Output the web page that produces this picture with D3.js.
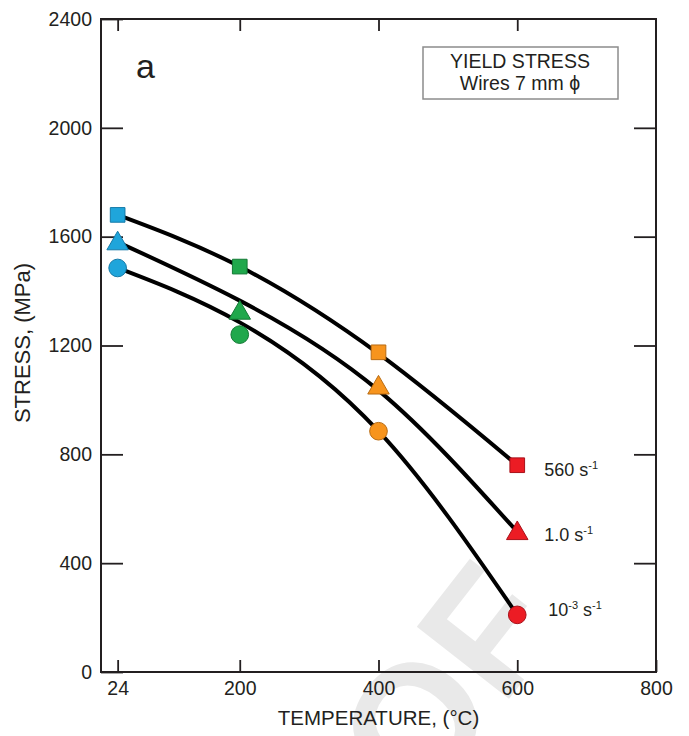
<!DOCTYPE html>
<html>
<head>
<meta charset="utf-8">
<script src="https://cdn.jsdelivr.net/npm/d3@7"></script>
<style>
  body { margin: 0; background: #fff; }
  text { font-family: "Liberation Sans", Arial, Helvetica, sans-serif; fill: #231f20; }
</style>
</head>
<body>
<div class="chart"></div>
<script>
// values
var temps = [24, 200, 400, 600];
var xTicks = [24, 200, 400, 600, 800];
var yTicks = [0, 400, 800, 1200, 1600, 2000, 2400];

var stress560 = [1680, 1490, 1175, 760];
var stress1 = [1580, 1325, 1050, 515];
var stress1e3 = [1485, 1240, 885, 210];

// the fitted curves (they don't pass exactly through every point)
var fit560 = [1680, 1490, 1170, 760];
var fit1 = [1580, 1365, 1035, 515];
var fit1e3 = [1485, 1285, 885, 210];

var rateLabels = ["560", "1.0", "10"];
var rateSups = ["", "", "-3"];

var width = 689, height = 736;

var svg = d3.select(".chart").append("svg")
    .attr("width", width)
    .attr("height", height);

var x = d3.scaleLinear().domain([0, 800]).range([101, 656]);
var y = d3.scaleLinear().domain([0, 2400]).range([672, 19]);

// faint watermark behind everything
svg.append("text")
    .attr("transform", "translate(566,626) rotate(-52)")
    .attr("text-anchor", "end")
    .style("font-size", "170px")
    .style("font-weight", "bold")
    .style("fill", "#e9e9e9")
    .text("PROOF");

var fills = ["#1fa5db", "#20a84c", "#f7941d", "#ec1c24"];
var strokes = ["#157aa8", "#137a35", "#b86b12", "#a8111a"];

var series = [
  {vals: stress560, fit: fit560, shape: "square", dy: 11},
  {vals: stress1, fit: fit1, shape: "triangle", dy: 9},
  {vals: stress1e3, fit: fit1e3, shape: "circle", dy: 1}
];

// frame
svg.append("rect")
    .attr("x", x(0)).attr("y", y(2400))
    .attr("width", x(800) - x(0))
    .attr("height", y(0) - y(2400))
    .style("fill", "none")
    .style("stroke", "#231f20")
    .style("stroke-width", 2);

// ticks pointing inward on all sides
svg.append("g")
    .attr("transform", "translate(0," + y(0) + ")")
    .call(d3.axisBottom(x).tickValues(xTicks).tickSizeInner(-12).tickSizeOuter(0).tickPadding(9).tickFormat(d3.format("d")))
    .call(function(g) { g.select(".domain").remove(); });
svg.append("g")
    .attr("transform", "translate(0," + y(2400) + ")")
    .call(d3.axisTop(x).tickValues(xTicks.slice(0, 4)).tickSizeInner(-12).tickSizeOuter(0).tickFormat(""))
    .call(function(g) { g.select(".domain").remove(); });
svg.append("g")
    .attr("transform", "translate(" + x(0) + ",0)")
    .call(d3.axisLeft(y).tickValues(yTicks).tickSizeInner(-22).tickSizeOuter(0).tickPadding(9).tickFormat(d3.format("d")))
    .call(function(g) { g.select(".domain").remove(); });
svg.append("g")
    .attr("transform", "translate(" + x(800) + ",0)")
    .call(d3.axisRight(y).tickValues(yTicks.slice(1, 6)).tickSizeInner(-22).tickSizeOuter(0).tickFormat(""))
    .call(function(g) { g.select(".domain").remove(); });

svg.selectAll(".tick line").style("stroke", "#231f20").style("stroke-width", 1.8);
svg.selectAll(".tick text")
    .style("font-size", "19.5px")
    .style("font-family", "'Liberation Sans', Arial, sans-serif")
    .style("fill", "#231f20");

// axis titles
svg.append("text")
    .attr("x", (x(0) + x(800)) / 2)
    .attr("y", 725)
    .attr("text-anchor", "middle")
    .style("font-size", "20.5px")
    .text("TEMPERATURE, (°C)");

svg.append("text")
    .attr("transform", "translate(30," + 343 + ") rotate(-90)")
    .attr("text-anchor", "middle")
    .style("font-size", "22px")
    .text("STRESS, (MPa)");

// panel letter
svg.append("text")
    .attr("x", 136).attr("y", 78)
    .style("font-size", "34px")
    .text("a");

// title box
svg.append("rect")
    .attr("x", 423).attr("y", 47)
    .attr("width", 195).attr("height", 52)
    .style("fill", "#fff")
    .style("stroke", "#8c8c8c")
    .style("stroke-width", 1.5);
svg.append("text")
    .attr("x", 520).attr("y", 68)
    .attr("text-anchor", "middle")
    .style("font-size", "19.5px")
    .text("YIELD STRESS");
svg.append("text")
    .attr("x", 520).attr("y", 90)
    .attr("text-anchor", "middle")
    .style("font-size", "19.5px")
    .text("Wires 7 mm ϕ");

// fitted curves
var line = d3.line()
    .x(function(d, i) { return x(temps[i]); })
    .y(function(d) { return y(d); })
    .curve(d3.curveNatural);

svg.selectAll(".fit")
    .data(series)
    .enter()
    .append("path")
    .attr("class", "fit")
    .attr("d", function(d) { return line(d.fit); })
    .style("fill", "none")
    .style("stroke", "#000")
    .style("stroke-width", 4);

// markers
var sym = {
  square: d3.symbol().type(d3.symbolSquare).size(215),
  triangle: d3.symbol().type(d3.symbolTriangle).size(200),
  circle: d3.symbol().type(d3.symbolCircle).size(245)
};

series.forEach(function(s) {
  svg.selectAll(null)
    .data(s.vals)
    .enter()
    .append("path")
    .attr("transform", function(d, i) {
      var dy = s.shape === "triangle" ? 1.5 : 0;
      return "translate(" + x(temps[i]) + "," + (y(d) + dy) + ")";
    })
    .attr("d", sym[s.shape]())
    .style("fill", function(d, i) { return fills[i]; })
    .style("stroke", function(d, i) { return strokes[i]; })
    .style("stroke-width", 1);
});

// rate labels
series.forEach(function(s, k) {
  var last = s.vals[s.vals.length - 1];
  var t = svg.append("text")
      .attr("x", x(600) + (k === 2 ? 31 : 27))
      .attr("y", y(last) + s.dy)
      .style("font-size", "18px");
  t.append("tspan").text(rateLabels[k]);
  if (rateSups[k]) {
    t.append("tspan").attr("dy", -7).style("font-size", "11px").text(rateSups[k]);
    t.append("tspan").attr("dy", 7).text(" s");
  } else {
    t.append("tspan").text(" s");
  }
  t.append("tspan").attr("dy", -7).style("font-size", "11px").text("-1");
});
</script>
</body>
</html>
